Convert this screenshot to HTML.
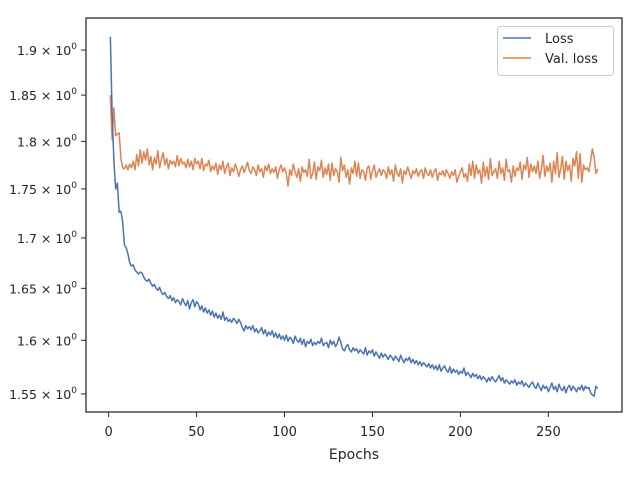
<!DOCTYPE html>
<html><head><meta charset="utf-8"><style>
body{margin:0;background:#fff;}
svg text{font-family:"DejaVu Sans","Liberation Sans",sans-serif;fill:#262626;}
</style></head><body>
<svg id="chart" width="640" height="480" xmlns="http://www.w3.org/2000/svg">
<rect x="0" y="0" width="640" height="480" fill="#fff"/>
<g id="plot"></g>
</svg>
<script>
const loss=[1.915,1.830,1.780,1.750,1.756,1.726,1.727,1.716,1.693,1.690,
1.684,1.675,1.672,1.673,1.668,1.666,1.664,1.666,1.665,1.661,
1.658,1.657,1.659,1.655,1.652,1.654,1.650,1.648,1.651,1.646,
1.644,1.646,1.642,1.640,1.643,1.638,1.641,1.636,1.639,1.637,
1.634,1.640,1.636,1.633,1.638,1.630,1.636,1.639,1.632,1.637,
1.635,1.629,1.633,1.627,1.631,1.626,1.629,1.624,1.628,1.622,
1.626,1.621,1.624,1.620,1.627,1.619,1.622,1.618,1.620,1.617,
1.621,1.619,1.616,1.620,1.617,1.612,1.609,1.614,1.611,1.613,
1.610,1.614,1.608,1.611,1.607,1.609,1.612,1.606,1.610,1.604,
1.608,1.605,1.609,1.603,1.607,1.602,1.606,1.601,1.604,1.600,
1.605,1.599,1.603,1.601,1.597,1.604,1.600,1.598,1.602,1.596,
1.601,1.594,1.599,1.597,1.601,1.595,1.598,1.596,1.599,1.597,
1.602,1.595,1.597,1.598,1.593,1.600,1.596,1.599,1.594,1.597,
1.603,1.598,1.592,1.590,1.594,1.596,1.591,1.589,1.593,1.590,
1.592,1.588,1.591,1.589,1.587,1.593,1.586,1.590,1.588,1.591,
1.585,1.589,1.586,1.583,1.588,1.584,1.587,1.585,1.582,1.586,
1.584,1.581,1.585,1.583,1.580,1.586,1.582,1.579,1.583,1.581,
1.584,1.579,1.582,1.578,1.581,1.577,1.580,1.576,1.579,1.577,
1.575,1.578,1.574,1.577,1.573,1.576,1.572,1.577,1.571,1.574,
1.576,1.572,1.570,1.575,1.569,1.573,1.570,1.572,1.568,1.571,
1.569,1.574,1.567,1.570,1.568,1.565,1.569,1.566,1.568,1.564,
1.567,1.563,1.566,1.564,1.561,1.565,1.562,1.566,1.563,1.561,
1.564,1.567,1.562,1.565,1.560,1.563,1.561,1.559,1.562,1.560,
1.563,1.558,1.561,1.559,1.562,1.557,1.560,1.558,1.556,1.559,
1.561,1.557,1.555,1.560,1.556,1.553,1.558,1.555,1.557,1.552,
1.556,1.560,1.554,1.557,1.552,1.559,1.555,1.553,1.557,1.551,
1.556,1.558,1.553,1.557,1.555,1.552,1.556,1.554,1.558,1.553,
1.557,1.555,1.556,1.551,1.549,1.548,1.557,1.555];
const valLoss=[1.850,1.802,1.836,1.806,1.808,1.809,1.782,1.772,1.771,1.775,
1.770,1.776,1.772,1.779,1.770,1.786,1.774,1.791,1.777,1.789,
1.780,1.792,1.775,1.784,1.770,1.783,1.776,1.790,1.772,1.781,
1.788,1.775,1.782,1.771,1.780,1.776,1.779,1.773,1.785,1.774,
1.782,1.776,1.778,1.772,1.781,1.773,1.779,1.770,1.782,1.776,
1.779,1.771,1.782,1.769,1.776,1.774,1.780,1.768,1.774,1.770,
1.777,1.765,1.775,1.770,1.779,1.766,1.773,1.777,1.764,1.772,
1.768,1.776,1.771,1.763,1.770,1.774,1.767,1.772,1.778,1.769,
1.766,1.773,1.770,1.764,1.775,1.768,1.771,1.762,1.774,1.769,
1.776,1.766,1.771,1.767,1.773,1.761,1.770,1.775,1.768,1.772,
1.766,1.753,1.770,1.764,1.776,1.768,1.762,1.771,1.758,1.773,
1.767,1.770,1.763,1.781,1.761,1.766,1.778,1.760,1.773,1.769,
1.780,1.762,1.772,1.765,1.776,1.759,1.777,1.764,1.771,1.768,
1.757,1.783,1.769,1.775,1.762,1.770,1.755,1.772,1.766,1.779,
1.763,1.777,1.761,1.770,1.768,1.759,1.772,1.774,1.760,1.769,
1.775,1.762,1.767,1.771,1.764,1.770,1.768,1.761,1.773,1.765,
1.770,1.758,1.775,1.766,1.763,1.771,1.756,1.769,1.765,1.773,
1.767,1.761,1.769,1.766,1.771,1.763,1.768,1.770,1.761,1.772,
1.766,1.764,1.770,1.762,1.768,1.771,1.759,1.767,1.765,1.769,
1.763,1.770,1.766,1.761,1.768,1.764,1.770,1.757,1.763,1.768,
1.772,1.762,1.766,1.758,1.776,1.764,1.779,1.761,1.775,1.766,
1.770,1.756,1.778,1.763,1.773,1.760,1.782,1.764,1.768,1.771,
1.761,1.779,1.766,1.772,1.759,1.781,1.768,1.770,1.757,1.774,
1.763,1.772,1.769,1.778,1.760,1.775,1.770,1.783,1.762,1.776,
1.768,1.774,1.766,1.779,1.761,1.770,1.785,1.763,1.774,1.768,
1.777,1.757,1.779,1.766,1.788,1.762,1.771,1.784,1.760,1.779,
1.769,1.775,1.758,1.782,1.774,1.789,1.761,1.787,1.757,1.775,
1.770,1.772,1.768,1.779,1.792,1.783,1.766,1.771];
const xTicks=[0,50,100,150,200,250];
const yTicks=[1.55,1.6,1.65,1.7,1.75,1.8,1.85,1.9];
const yTickLabels=["1.55","1.6","1.65","1.7","1.75","1.8","1.85","1.9"];

const L=86,R=622,T=18,B=412;
const xMin=-12.85,xMax=291.85;
const yLo=1.5335,yHi=1.9364;
const xs=v=>L+(v-xMin)/(xMax-xMin)*(R-L);
const ys=v=>B-(Math.log(v)-Math.log(yLo))/(Math.log(yHi)-Math.log(yLo))*(B-T);
const NS="http://www.w3.org/2000/svg";
const g=document.getElementById('plot');
function mk(tag,attrs,parent){const e=document.createElementNS(NS,tag);for(const k in attrs)e.setAttribute(k,attrs[k]);(parent||g).appendChild(e);return e;}

xTicks.forEach(t=>{
  const x=xs(t);
  const tk=mk('line',{x1:x,x2:x,y1:B,y2:B+5,stroke:'#262626','stroke-width':1});
  
  
  const tx=mk('text',{x:x,y:B+24,'text-anchor':'middle','font-size':13});
  tx.textContent=t;
  
  
});
yTicks.forEach((t,i)=>{
  const y=ys(t);
  const tk=mk('line',{x1:L-5,x2:L,y1:y,y2:y,stroke:'#262626','stroke-width':1});
  
  
  const tx=mk('text',{x:L-9,y:y+5,'text-anchor':'end','font-size':12.5});
  tx.textContent=yTickLabels[i]+' × 10';
  const sp=mk('tspan',{dy:-6,'font-size':9},tx);sp.textContent='0';
  
  
});

function series(arr,color,name){
  const pts=arr.map((v,i)=>xs(i+1).toFixed(2)+','+ys(v).toFixed(2)).join(' ');
  const p=mk('polyline',{points:pts,fill:'none',stroke:color,'stroke-width':1.5,'stroke-linejoin':'round'});
  
  
}
series(valLoss,'#dd8452','val-loss-line');
series(loss,'#4c72b0','loss-line');

const fr=mk('rect',{x:L,y:T,width:R-L,height:B-T,fill:'none',stroke:'#262626','stroke-width':1.25});



const xl=mk('text',{x:(L+R)/2,y:459,'text-anchor':'middle','font-size':14});
xl.textContent='Epochs';



const lg=mk('g',{});


mk('rect',{x:497.5,y:26.5,width:116,height:49,rx:3,fill:'#fff',stroke:'#cccccc','stroke-width':1},lg);
[['Loss','#4c72b0',42],['Val. loss','#dd8452',62]].forEach(([n,c,y])=>{
  const e=mk('g',{},lg);
  
  
  mk('line',{x1:503,x2:531,y1:y-4,y2:y-4,stroke:c,'stroke-width':1.5},e);
  const t=mk('text',{x:545,y:y+1,'font-size':13},e);t.textContent=n;
});
</script>
</body></html>
